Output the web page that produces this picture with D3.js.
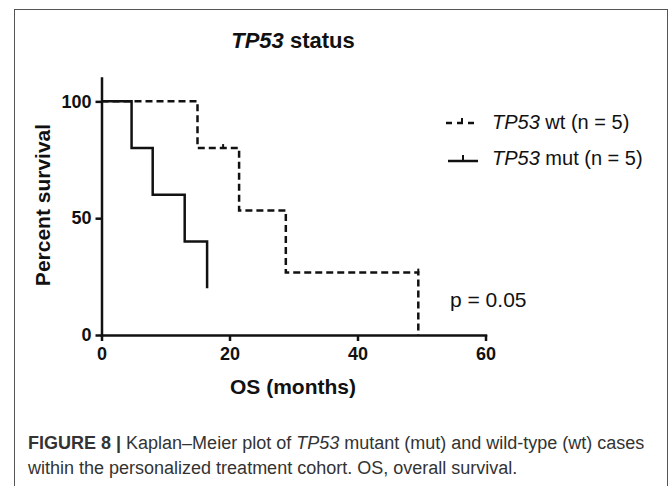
<!DOCTYPE html>
<html>
<head>
<meta charset="utf-8">
<script src="https://cdn.jsdelivr.net/npm/d3@7"></script>
<style>
  body { margin: 0; background: #fff; }
  svg { display: block; }
  .axis text { font-family: "Liberation Sans", Arial, sans-serif; font-weight: bold; font-size: 18px; fill: #111; }
  .axis path, .axis line { stroke: #111; stroke-width: 2.5px; }
</style>
</head>
<body>
<div id="graphic"></div>
<script>
(function() {
  var W = 669, H = 486;

  /*** DATA ***/
  // TP53 mutant: time of each step (months) and survival after it
  var mutTimes = [0, 4.7, 8.0, 13.0, 16.5];
  var mutSurv = [100, 80, 60, 40, 20];
  // TP53 wild-type
  var wtTimes = [0, 15.0, 21.5, 28.8, 49.5];
  var wtSurv = [100, 80, 53.3, 26.7, 0];
  // censor ticks on wild-type curve
  var wtCensorTimes = [19.0, 49.5];
  var wtCensorSurv = [80, 26.7];

  var xTicks = [0, 20, 40, 60];
  var yTicks = [0, 50, 100];
  var legendLabels = [["TP53", " wt (n = 5)"], ["TP53", " mut (n = 5)"]];
  var pText = "p = 0.05";

  var svg = d3.select("#graphic")
    .append("svg")
    .attr("width", W)
    .attr("height", H);

  // frame
  svg.append("rect")
    .attr("x", 14.5).attr("y", 9.5)
    .attr("width", 653).attr("height", 500)
    .attr("fill", "none")
    .attr("stroke", "#555")
    .attr("stroke-width", 1);

  /*** SCALES ***/
  var x = d3.scaleLinear().domain([0, 60]).range([101.5, 485.5]);
  var y = d3.scaleLinear().domain([0, 110]).range([335, 78]);

  /*** AXES ***/
  var yAxis = svg.append("g")
    .attr("class", "axis")
    .attr("transform", "translate(" + x(0) + ",0)")
    .call(d3.axisLeft(y).tickValues(yTicks).tickSize(6).tickSizeOuter(0).tickPadding(4));
  yAxis.select(".domain").attr("stroke-linecap", "square");

  var xAxis = svg.append("g")
    .attr("class", "axis")
    .attr("transform", "translate(0," + y(0) + ")")
    .call(d3.axisBottom(x).tickValues(xTicks).tickSize(6).tickSizeOuter(0).tickPadding(6));
  xAxis.select(".domain").attr("stroke-linecap", "square");

  /*** CURVES ***/
  var step = d3.line()
    .x(function(d) { return x(d[0]); })
    .y(function(d) { return y(d[1]); })
    .curve(d3.curveStepAfter);

  var wtPts = wtTimes.map(function(t, i) { return [t, wtSurv[i]]; });
  var mutPts = mutTimes.map(function(t, i) { return [t, mutSurv[i]]; });

  svg.append("path")
    .attr("d", step(wtPts))
    .attr("fill", "none")
    .attr("stroke", "#111")
    .attr("stroke-width", 2.5)
    .attr("stroke-dasharray", "7,4");

  svg.append("path")
    .attr("d", step(mutPts))
    .attr("fill", "none")
    .attr("stroke", "#111")
    .attr("stroke-width", 2.5);

  svg.selectAll(".censor")
    .data(wtCensorTimes).enter().append("line")
    .attr("class", "censor")
    .attr("x1", function(d) { return x(d); })
    .attr("x2", function(d) { return x(d); })
    .attr("y1", function(d, i) { return y(wtCensorSurv[i]); })
    .attr("y2", function(d, i) { return y(wtCensorSurv[i]) - 4; })
    .attr("stroke", "#111")
    .attr("stroke-width", 2);

  /*** TITLES ***/
  var font = "'Liberation Sans', Arial, sans-serif";

  var title = svg.append("text")
    .attr("x", 293).attr("y", 48)
    .attr("text-anchor", "middle")
    .attr("font-family", font)
    .attr("font-weight", "bold")
    .attr("font-size", 22)
    .attr("fill", "#111");
  title.append("tspan").attr("font-style", "italic").text("TP53");
  title.append("tspan").text(" status");

  svg.append("text")
    .attr("x", 293).attr("y", 394)
    .attr("text-anchor", "middle")
    .attr("font-family", font)
    .attr("font-weight", "bold")
    .attr("font-size", 21)
    .attr("fill", "#111")
    .text("OS (months)");

  svg.append("text")
    .attr("transform", "translate(50,205) rotate(-90)")
    .attr("text-anchor", "middle")
    .attr("font-family", font)
    .attr("font-weight", "bold")
    .attr("font-size", 21)
    .attr("fill", "#111")
    .text("Percent survival");

  /*** LEGEND ***/
  var legendY = [123, 161];
  var leg = svg.selectAll(".leg")
    .data(legendLabels).enter().append("g")
    .attr("class", "leg")
    .attr("transform", function(d, i) { return "translate(0," + legendY[i] + ")"; });

  // wt sample: dash, censor tick, dot
  var l0 = d3.select(leg.nodes()[0]);
  l0.append("line").attr("x1", 446).attr("x2", 478).attr("y1", 0).attr("y2", 0)
    .attr("stroke", "#111").attr("stroke-width", 2.5).attr("stroke-dasharray", "6,5");
  l0.append("line").attr("x1", 462).attr("x2", 462).attr("y1", 0).attr("y2", -5)
    .attr("stroke", "#111").attr("stroke-width", 2);
  // mut sample: solid with censor tick
  var l1 = d3.select(leg.nodes()[1]);
  l1.append("line").attr("x1", 448).attr("x2", 478).attr("y1", 0).attr("y2", 0)
    .attr("stroke", "#111").attr("stroke-width", 2.5);
  l1.append("line").attr("x1", 463).attr("x2", 463).attr("y1", 0).attr("y2", -6)
    .attr("stroke", "#111").attr("stroke-width", 2);

  var lt = leg.append("text")
    .attr("x", 492).attr("y", function(d, i) { return i === 0 ? 6 : 4; })
    .attr("font-family", font)
    .attr("font-size", 20)
    .attr("fill", "#111");
  lt.append("tspan").attr("font-style", "italic").text(function(d) { return d[0]; });
  lt.append("tspan").text(function(d) { return d[1]; });

  svg.append("text")
    .attr("x", 450).attr("y", 307)
    .attr("font-family", font)
    .attr("font-size", 21)
    .attr("fill", "#111")
    .text(pText);

  /*** CAPTION ***/
  var cap1 = svg.append("text")
    .attr("x", 28).attr("y", 449)
    .attr("font-family", font)
    .attr("font-size", 18)
    .attr("fill", "#333");
  cap1.append("tspan").attr("font-weight", "bold").text("FIGURE 8 | ");
  cap1.append("tspan").text("Kaplan\u2013Meier plot of ");
  cap1.append("tspan").attr("font-style", "italic").text("TP53");
  cap1.append("tspan").text(" mutant (mut) and wild-type (wt) cases");

  svg.append("text")
    .attr("x", 28).attr("y", 474)
    .attr("font-family", font)
    .attr("font-size", 18)
    .attr("fill", "#333")
    .text("within the personalized treatment cohort. OS, overall survival.");
})();
</script>
</body>
</html>
